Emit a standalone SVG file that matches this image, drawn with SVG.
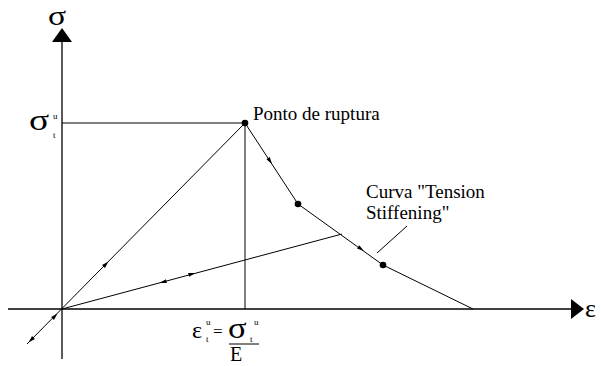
<svg xmlns="http://www.w3.org/2000/svg" width="601" height="366" viewBox="0 0 601 366">
<style>
.ax{stroke:#000;stroke-width:1.3;fill:none}
.ln{stroke:#000;stroke-width:1;fill:none}
text{font-family:'Liberation Serif','DejaVu Serif',serif;fill:#000}
.dot{fill:#000}
</style>
<defs>
<path id="ah" d="M3.5,0 L-3.5,-2 L-3.5,2 Z" fill="#000"/>
</defs>
<rect width="601" height="366" fill="#fff"/>
<g id="axes">
<line class="ax" x1="62" y1="40" x2="62" y2="359"/>
<path d="M62,28 L52,42 L72,42 Z" fill="#000"/>
<line class="ax" x1="8" y1="309" x2="573" y2="309"/>
<path d="M584,309 L571,299 L571,319 Z" fill="#000"/>
<text transform="translate(48,25) scale(1.2,1)" font-size="28">σ</text>
<text x="585" y="317" font-size="26">ε</text>
</g>
<g id="connectors">
<line class="ln" x1="62" y1="123" x2="245" y2="123"/>
<line class="ln" x1="245" y1="123" x2="245" y2="309"/>
<line class="ln" x1="27" y1="344" x2="245" y2="123"/>
<polyline class="ln" points="245,123 298,204 383,265 473,309"/>
<line class="ln" x1="62" y1="309" x2="342" y2="234"/>
<line class="ln" x1="377" y1="253" x2="407" y2="226"/>
<use href="#ah" transform="translate(106,264) rotate(-45.5)"/>
<use href="#ah" transform="translate(55,316) rotate(-45.5)"/>
<use href="#ah" transform="translate(31,340) rotate(134.5)"/>
<use href="#ah" transform="translate(270,161) rotate(56.8)"/>
<use href="#ah" transform="translate(361,249) rotate(35.7)"/>
<use href="#ah" transform="translate(192,274) rotate(-15)"/>
<use href="#ah" transform="translate(163,282) rotate(165)"/>
</g>
<g id="ponto">
<circle class="dot" cx="245" cy="123" r="3.3"/>
<text x="253" y="120" font-size="19">Ponto de ruptura</text>
</g>
<circle class="dot" cx="298" cy="204" r="3.3"/>
<circle class="dot" cx="383" cy="265" r="3.3"/>
<g id="curva">
<text x="366" y="198" font-size="19">Curva "Tension</text>
<text x="366" y="219" font-size="19">Stiffening"</text>
</g>
<g id="sigma-u">
<text transform="translate(29,130) scale(1.25,1)" font-size="30">σ</text>
<text x="53" y="119" font-size="9">u</text>
<text x="53" y="138" font-size="9">t</text>
</g>
<g id="eps-formula">
<text x="192" y="338" font-size="24">ε</text>
<text x="206" y="325" font-size="9">u</text>
<text x="206" y="342" font-size="9">t</text>
<text x="213" y="337" font-size="17">=</text>
<text transform="translate(228,338) scale(1.15,1)" font-size="30">σ</text>
<text x="254" y="325" font-size="9">u</text>
<text x="250" y="342" font-size="9">t</text>
<line class="ln" x1="229" y1="344" x2="259" y2="344"/>
<text x="230" y="361" font-size="20">E</text>
</g>
</svg>
